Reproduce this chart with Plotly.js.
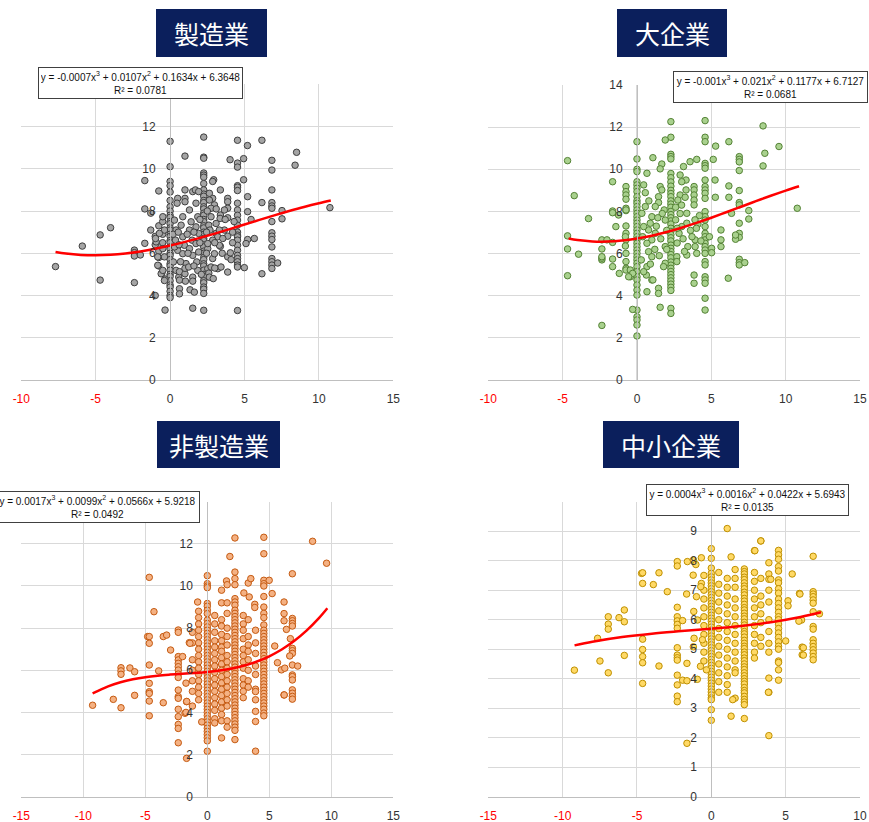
<!DOCTYPE html>
<html><head><meta charset="utf-8">
<script src="https://cdn.plot.ly/plotly-3.0.1.min.js"></script>
<style>html,body{margin:0;padding:0;background:#fff}#chart{width:869px;height:822px}</style>
</head><body><div id="chart"></div>
<script>
// ---------- 製造業 ----------
const mfgColX = [0, 2.26, 4.53, 6.84];
const mfgColY = [
 [11.3,10.1,9.4,9.2,8.9,8.5,8.2,8.0,7.8,7.7,7.5,7.4,7.2,7.1,6.9,6.8,6.6,6.5,6.3,6.2,6.0,5.9,5.7,5.5,5.4,5.2,5.0,4.9,4.7,4.5,4.4,4.2,4.0,3.9],
 [11.5,10.55,10.5,9.8,9.7,9.6,9.3,9.0,8.8,8.7,8.5,8.4,8.2,8.1,7.9,7.8,7.6,7.5,7.3,7.2,7.0,6.9,6.7,6.6,6.4,6.3,6.1,6.0,5.8,5.7,5.5,5.4,5.2,5.0,4.9,4.7,4.6,4.4,4.3,4.1,3.3],
 [11.35,10.27,10.08,9.2,9.13,8.97,8.37,8.05,7.8,7.57,7.33,7.0,6.86,6.78,6.62,6.38,6.14,5.9,5.75,5.6,5.44,5.35,3.29],
 [10.4,9.94,9.0,8.4,8.24,8.13,7.5,6.97,6.81,6.65,6.3,5.75,5.6,5.44,5.28]
];
const mfgOther = [[-7.7,5.37],[-5.9,6.34],[-4.7,6.87],[-4.7,4.73],[-4.0,7.21],[-2.4,6.15],[-2.4,6.03],[-2.4,5.87],[-2.4,4.61],[-1.7,9.44],[-1.7,8.1],[-1.7,6.47],[-2.0,5.92],[-1.3,7.9],[-1.3,7.1],[-1.0,4.0],[-0.76,8.95],[-0.76,7.3],[-0.76,6.4],[-0.76,6.1],[-0.76,5.8],[-0.76,5.4],[-1.0,6.8],[-1.0,6.4],[-0.56,5.05],[-0.34,4.78],[-0.34,3.31],[-0.5,7.5],[-0.5,6.9],[-0.5,6.5],[-0.94,6.54],[-0.83,5.83],[-0.83,5.43],[-0.6,5.03],[-0.49,6.22],[-0.38,5.83],[-0.49,5.19],[-0.38,4.71],[-0.49,7.73],[-0.38,7.1],[-0.72,6.94],[-0.98,6.7],
 [7.52,8.02],[7.52,7.63],[7.23,5.54],[6.17,5.03],[6.17,8.4],[6.17,11.35],[10.74,8.16],[8.5,10.78],[8.4,10.17],[5.2,11.1],[1.0,10.6],[4.03,10.43],[4.94,10.48],[4.94,9.48],[5.21,8.68],[5.21,7.97],[5.44,7.6],[5.66,6.7],[5.21,6.65],[5.1,6.46],[4.99,5.32],[3.87,5.11],[3.87,5.83],[4.05,6.02],[3.87,8.6],[3.87,8.44],[3.87,8.13],[3.87,7.68],[3.87,6.81],[3.38,6.33],[3.38,9.0],[3.38,7.81],[3.2,5.27],[2.93,9.48],[2.86,9.4],[2.86,8.6],[2.98,8.29],[2.75,8.13],[2.64,8.84],[2.53,5.27],[2.6,5.06],[2.64,4.87],[2.86,5.75],[3.09,6.94],[3.2,6.78],[3.31,6.38],[3.36,7.65],[3.65,8.05],[3.65,7.1],[3.54,6.7],
 [0.51,8.6],[0.47,8.37],[1.0,9.0],[1.0,8.6],[1.0,8.44],[1.52,8.92],[1.7,9.0],[1.92,8.92],
 [0.29,7.57],[0.4,7.1],[0.36,6.62],[0.51,6.14],[0.22,5.59],[0.4,5.19],[0.58,4.87],[0.63,4.32],[0.63,4.08],[0.63,5.13],[0.63,4.73],
 [0.85,7.73],[0.74,7.33],[0.85,6.78],[0.96,6.38],[0.85,5.98],[1.07,5.51],[1.0,5.03],[1.03,4.68],[1.0,5.29],
 [1.3,8.05],[1.41,7.49],[1.3,7.1],[1.48,6.62],[1.3,6.22],[1.52,5.9],[1.25,5.35],[1.52,4.87],[1.52,4.68],[1.34,4.27],[1.52,3.4],[1.63,4.16],
 [1.74,8.37],[1.86,7.73],[1.74,7.25],[1.92,6.94],[1.74,6.46],[1.92,6.06],[1.79,5.59],[1.86,5.19],
 [2.64,8.52],[2.75,7.73],[2.6,7.33],[2.68,7.1],[2.86,6.62],[2.53,6.22],[2.98,5.98],[2.53,6.46],[2.75,5.35],[3.31,7.1],[3.09,7.41],[3.42,5.35],
 [0.2,6.9],[0.3,6.3],[0.55,7.0],[0.6,6.4],[0.7,5.6],[1.15,6.9],[1.2,6.0],[1.6,7.0],[1.6,5.4],[2.0,6.5],[2.0,7.6],[2.1,5.0],[2.45,7.0],[2.45,6.0],[2.5,8.0],[3.0,6.5],[3.1,8.1],[3.5,6.0],[3.7,7.6],[4.2,7.0],[4.2,6.5],[4.3,7.5],[4.1,5.7],[2.9,4.8],[3.0,5.3]];
const mfgTrendX = [-7.7,-7,-6,-5,-4,-3,-2,-1,0,1,2,3,4,5,6,7,8,9,10,10.8];
const mfgTrendY = [6.06,5.985,5.921,5.903,5.927,5.99,6.086,6.213,6.365,6.538,6.729,6.932,7.145,7.362,7.579,7.793,7.998,8.192,8.369,8.50];

// ---------- 大企業 ----------
const lrgColX = [0, 2.28, 4.58, 6.88];
const lrgColY = [
 [11.31,10.49,10.0,9.89,9.41,9.26,9.1,8.94,8.7,8.51,8.39,8.23,8.07,7.91,7.75,7.59,7.44,7.28,7.12,6.96,6.8,6.65,6.49,6.33,6.17,6.01,5.85,5.7,5.54,5.38,5.14,4.9,4.75,4.51,4.27,4.03,3.32,3.0,2.85,2.61,2.09],
 [12.26,11.52,10.71,10.6,10.49,9.8,9.6,9.4,9.2,9.0,8.85,8.7,8.5,8.35,8.2,8.0,7.85,7.7,7.55,7.4,7.2,7.05,6.9,6.75,6.6,6.4,6.25,6.1,5.95,5.8,5.6,5.45,5.3,5.15,5.0,4.85,4.7,4.55,4.4,4.25,3.4,3.16],
 [12.31,11.52,11.31,10.28,10.17,10.05,9.49,9.18,9.02,8.86,8.62,7.99,7.75,7.59,7.28,6.96,6.8,6.65,6.49,6.33,6.17,6.01,5.62,5.46,4.9,4.75,4.59,3.88,3.32],
 [10.6,10.47,10.35,9.94,8.99,8.42,8.31,7.44,6.96,6.77,5.73,5.57,5.46]
];
const lrgOther = [[-4.67,10.41],[-4.67,6.84],[-4.67,6.22],[-4.67,4.95],[-4.22,8.75],[-3.93,5.97],[-3.26,7.66],[-2.36,5.7],[-2.36,5.78],[-2.36,5.85],[-2.36,6.22],[-2.36,6.65],[-2.36,2.59],[-2.02,6.65],[-1.64,9.41],[-1.64,8.02],[-1.64,7.94],[-1.64,6.53],[-1.64,5.74],[-1.64,5.38],[-1.42,7.28],[-1.24,7.83],[-1.19,5.06],[-0.74,9.18],[-0.74,8.94],[-0.74,8.78],[-0.74,8.58],[-0.74,8.15],[-0.74,8.04],[-0.74,7.31],[-0.74,6.96],[-0.74,6.65],[-0.74,6.01],[-0.74,5.62],[-0.74,5.3],[-0.74,5.22],[-0.29,3.35],[-0.45,5.22],[-0.45,4.9],[-0.74,8.07],[-0.78,6.8],[-0.78,6.36],[-0.29,5.06],[-0.56,4.9],
 [8.48,12.06],[8.6,10.76],[8.48,10.16],[9.55,11.08],[10.78,8.15],[7.52,8.04],[7.52,7.64],[7.25,5.57],[6.63,6.68],[6.63,6.88],[6.18,9.21],[6.18,8.67],[6.14,4.83],[6.36,7.91],[5.65,7.12],[5.65,6.65],[5.65,6.33],[5.27,8.67],[5.25,9.49],[5.13,10.47],[5.02,6.25],[5.02,6.04],[4.87,6.8],[5.29,11.1],[6.18,11.31],[4.02,10.47],[3.57,10.36],[3.13,10.13],
 [3.84,9.18],[3.84,9.02],[3.84,8.78],[3.84,8.54],[3.84,8.31],[3.91,6.65],[3.91,6.33],[3.84,4.98],[3.84,4.59],[4.02,6.01],[3.3,9.49],[3.3,9.02],[3.35,7.91],[3.35,7.44],[3.42,6.33],[3.35,5.93],[2.9,9.73],[3.01,9.41],[2.9,8.78],[2.75,8.54],[2.83,6.96],[2.68,5.85],[2.68,5.62],[3.01,7.28],[3.24,8.67],
 [1.67,10.25],[1.56,10.02],[1.07,10.55],[1.9,11.39],[1.56,9.18],[1.67,9.02],[1.45,8.7],[1.45,8.42],[1.23,8.23],[1.0,7.75],[0.89,7.44],[0.78,7.12],[1.23,6.96],[1.0,6.65],[0.67,6.49],[0.78,6.09],[1.0,5.85],[0.67,5.38],[0.63,4.98],[1.0,4.75],[0.67,4.19],[1.45,4.35],[1.45,4.11],[1.56,3.45],[1.07,4.75],[1.9,6.33],[1.9,5.54],[1.79,5.38],[1.9,7.59],[1.83,8.07],[0.56,8.89],[0.67,9.81],[0.45,9.26],[0.33,7.91],[0.45,7.28],[0.38,6.8],[0.56,8.23],[0.29,5.7],[0.45,5.14],
 [1.3,7.3],[1.6,6.7],[1.7,7.9],[2.0,7.1],[2.0,6.2],[2.6,7.6],[2.7,6.5],[2.9,7.9],[3.1,6.7],[3.2,6.1],[3.6,7.1],[3.7,6.8],[4.1,7.4],[4.2,7.8],[4.3,6.6],[1.2,6.2],[0.9,5.5],[1.5,5.9],[2.6,8.2],[3.0,8.3],[3.9,7.6],[4.0,7.2],[2.7,7.2],[1.4,7.7],[0.8,8.5]];
const lrgTrendX = [-4.6,-4,-3,-2,-1,0,1,2,3,4,5,6,7,8,9,10,10.9];
const lrgTrendY = [6.713,6.642,6.576,6.569,6.617,6.713,6.85,7.024,7.228,7.456,7.701,7.959,8.223,8.486,8.744,8.99,9.196];

// ---------- 非製造業 ----------
const nonColX = [-0.7, -1.2, 0, 0.6, 1.15, 1.6, 2.23, 2.9, 3.3, 3.89, 4.56, 6.86];
const nonColY = [
 [8.8,8.5,8.2,7.9,7.6,7.3,7.0,6.7,6.4,6.1,5.8,5.5,5.2,4.9,4.6],
 [7.8,7.3,6.5,6.0,5.5,5.0,4.3],
 [10.49,10.11,10.0,9.92,9.17,9.04,8.85,8.69,8.38,8.22,8.06,7.9,7.75,7.6,7.45,7.3,7.15,7.0,6.85,6.7,6.55,6.4,6.25,6.1,5.95,5.8,5.65,5.5,5.35,5.2,5.05,4.9,4.75,4.6,4.45,4.3,4.15,4.0,3.85,3.7,3.55,3.4,3.25,3.1,2.95,2.8,2.65,2.16],
 [8.6,8.2,7.8,7.4,7.1,6.8,6.5,6.2,5.9,5.6,5.3,5.0,4.7,4.4,4.1,3.7,3.5],
 [9.8,9.2,8.4,8.1,7.7,7.4,7.1,6.9,6.6,6.3,6.0,5.7,5.4,5.1,4.8,4.5,4.2,3.9,3.6,2.79],
 [9.2,8.7,8.0,7.6,7.2,6.7,6.4,6.1,5.8,5.5,5.2,4.9,4.6,4.3,3.6,3.3],
 [12.28,10.66,10.35,9.4,9.24,9.09,8.85,8.7,8.55,8.4,8.25,8.1,7.95,7.8,7.65,7.5,7.35,7.2,7.05,6.9,6.75,6.6,6.45,6.3,6.15,6.0,5.85,5.7,5.55,5.4,5.25,5.1,4.95,4.8,4.65,4.5,4.35,4.2,4.05,3.9,3.75,3.6,3.45,3.3,3.15,2.71],
 [8.6,8.2,7.9,7.5,7.0,6.7,6.4,6.1,5.6,5.3,5.0,4.7],
 [8.4,7.6,7.2,6.9,6.5,6.0,5.5,5.2],
 [7.9,7.3,6.8,6.2,5.8,5.1,2.16,3.57,4.05,4.6,4.99],
 [12.31,11.53,10.27,10.11,10.0,9.5,9.0,8.7,8.5,8.15,7.9,7.75,7.6,7.45,7.3,7.15,7.0,6.85,6.7,6.55,6.4,6.25,6.1,5.95,5.8,5.65,5.5,5.35,5.2,5.05,4.9,4.75,4.6,4.45,4.3,4.15,3.97,3.84],
 [10.58,8.46,8.35,8.22,8.1,7.04,6.93,6.8,6.25,5.78,5.7,5.54,5.07,4.91,4.76,4.63]
];
const nonOther = [[-9.25,4.34],[-7.58,4.62],[-6.96,6.12],[-6.96,5.97],[-6.96,5.81],[-6.96,4.22],[-6.24,6.11],[-5.86,5.93],[-5.86,4.81],[-4.81,7.6],[-4.68,7.6],[-4.68,7.28],[-4.68,6.25],[-4.68,10.41],[-4.68,5.38],[-4.68,4.98],[-4.68,4.9],[-4.68,4.54],[-4.68,3.84],[-4.3,8.78],[-3.92,5.97],[-3.55,7.6],[-3.28,7.67],[-3.55,4.46],[-2.96,6.96],[-2.34,7.91],[-2.34,7.8],[-2.34,6.65],[-2.34,6.49],[-2.34,6.33],[-2.34,6.17],[-2.34,6.01],[-2.34,5.82],[-2.34,5.66],[-2.34,5.06],[-2.34,4.75],[-2.34,4.67],[-2.34,4.15],[-2.34,3.8],[-2.34,3.43],[-2.34,3.24],[-2.34,2.56],[-1.99,6.65],[-1.67,4.51],[-1.67,1.82],[-1.45,7.31],[-1.8,3.96],[-1.72,5.39],[-1.4,7.28],[-1.66,4.52],[-1.72,4.0],[-0.78,9.24],[-0.45,3.55],
 [8.49,12.12],[9.62,11.08],[1.82,11.4],[1.55,10.24],[1.6,10.06],[2.23,10.06],[3.3,10.14],[3.51,10.35],[2.95,9.67],[3.38,9.48],[3.83,9.13],[3.83,8.98],[4.99,10.27],[5.23,9.64],[6.19,9.24],[6.19,8.69],[6.19,8.35],[6.38,7.94],[5.44,7.15],[5.66,6.36],[5.98,6.02],[6.25,6.1],[7.29,6.2],[6.19,4.83],[6.7,7.5],[6.65,6.68],[6.2,4.83]];
const nonTrendX = [-9.25,-8,-7,-6,-5,-4,-3,-2,-1,0,1,2,3,4,5,6,7,8,9,9.68];
const nonTrendY = [4.90,5.232,5.428,5.571,5.674,5.745,5.795,5.835,5.873,5.922,5.99,6.088,6.227,6.415,6.665,6.985,7.386,7.879,8.472,8.94];

// ---------- 中小企業 ----------
const smeColX = [-0.5, 0, 0.5, 1.07, 1.6, 2.22, 2.9, 3.33, 3.87, 4.52, 6.85];
const smeColY = [
 [7.5,7.0,6.7,6.4,6.1,5.8,5.5,5.2,4.9,4.6],
 [8.41,8.08,7.75,7.57,7.45,7.35,7.25,7.15,7.05,6.95,6.85,6.75,6.65,6.55,6.45,6.35,6.25,6.15,6.05,5.95,5.85,5.75,5.65,5.55,5.45,5.35,5.25,5.15,5.05,4.95,4.85,4.75,4.65,4.55,4.45,4.35,4.25,4.15,4.05,3.95,3.85,3.75,3.65,3.55,3.45,3.35,3.29,2.95,2.59],
 [7.6,7.2,6.9,6.6,6.3,6.0,5.7,5.4,5.1,4.8,4.5,4.2,3.9,3.54],
 [9.09,7.4,7.1,6.8,6.5,6.2,5.9,5.6,5.3,5.0,4.7,4.4,4.1,3.8,3.54],
 [7.7,7.4,7.1,6.7,6.4,6.1,5.8,5.5,5.2,4.9,4.6,4.3,4.2,3.34],
 [7.72,7.63,7.55,7.44,7.36,7.25,7.14,7.05,6.93,6.84,6.72,6.63,6.52,6.41,6.33,6.22,6.12,6.03,5.91,5.82,5.71,5.6,5.52,5.41,5.3,5.2,5.1,5.02,4.9,4.81,4.7,4.61,4.5,4.4,4.31,4.2,4.1,4.0,3.91,3.82,3.7,3.6,3.52,3.4,3.3,3.21,3.12,2.65],
 [8.34,7.6,7.3,7.0,6.7,6.4,6.1,5.8,5.5,5.2,4.9,4.7],
 [8.67,7.4,6.8,6.5,6.2,5.9,5.4,5.1],
 [7.93,7.55,7.37,7.0,6.6,6.0,5.6,5.2,4.9,4.02,3.54,2.07],
 [8.35,8.2,8.05,7.8,7.65,7.35,7.25,7.05,6.9,6.7,6.55,6.4,6.25,6.1,6.0,5.85,5.7,5.55,5.4,5.25,5.1,5.0,4.6,4.55,4.3,3.95],
 [8.15,6.95,6.87,6.78,6.67,6.56,6.27,5.77,5.68,5.32,5.2,5.09,4.98,4.87,4.75,4.64]
];
const smeOther = [[-9.21,4.29],[-7.65,5.37],[-7.49,4.6],[-6.93,6.1],[-6.93,5.85],[-6.93,5.68],[-6.93,4.2],[-6.21,6.07],[-5.85,6.33],[-5.85,5.93],[-5.85,4.79],[-4.69,7.57],[-4.62,7.59],[-4.62,7.23],[-4.62,5.34],[-4.62,4.99],[-4.62,4.75],[-4.62,4.54],[-4.62,3.84],[-3.9,7.19],[-3.52,7.59],[-3.52,4.43],[-2.96,6.95],[-2.29,7.97],[-2.29,7.82],[-2.29,6.42],[-2.29,6.1],[-2.29,5.96],[-2.29,5.84],[-2.29,5.71],[-2.29,5.05],[-2.29,4.8],[-2.29,4.71],[-2.29,4.63],[-2.29,4.12],[-2.29,3.79],[-2.29,3.41],[-2.29,3.22],[-1.93,3.95],[-1.64,1.81],[-1.64,4.52],[-1.64,3.93],[-1.61,7.97],[-1.66,6.87],[-1.93,5.97],[-1.21,5.08],[-1.21,8.02],[-0.94,3.98],[-0.67,8.1],[-1.04,7.87],[-1.22,7.51],[-0.67,7.23],[-0.71,7.12],[-1.0,6.78],[-1.18,6.28],[-0.93,5.99],[-1.16,5.37],[-0.6,5.32],[-0.33,4.3],[-0.73,4.42],
 [1.33,8.13],[1.33,2.73],[1.44,3.29],[3.33,8.67],[2.93,8.34],[5.44,7.55],[5.93,6.89],[5.16,6.64],[5.16,6.47],[5.0,5.28],[6.11,5.07],[6.11,4.81],[6.07,5.99],[5.89,5.95],[7.27,6.2],[5.96,6.87],[6.19,4.8],[6.19,5.05],[3.84,3.54],[4.0,7.37]];
const smeTrendX = [-9.2,-8,-6,-4,-2,0,2,4,6,7.38];
const smeTrendY = [5.13,5.254,5.412,5.526,5.613,5.694,5.788,5.914,6.092,6.25];

// ---------- labels ----------
const titles = ['製造業','大企業','非製造業','中小企業'];
const eqLine1 = ['y = -0.0007x<sup>3</sup> + 0.0107x<sup>2</sup> + 0.1634x + 6.3648',
 'y = -0.001x<sup>3</sup> + 0.021x<sup>2</sup> + 0.1177x + 6.7127',
 'y = 0.0017x<sup>3</sup> + 0.0099x<sup>2</sup> + 0.0566x + 5.9218',
 'y = 0.0004x<sup>3</sup> + 0.0016x<sup>2</sup> + 0.0422x + 5.6943'];
const eqLine2 = ['R² = 0.0781','R² = 0.0681','R² = 0.0492','R² = 0.0135'];
const xTicks = [[-10,-5,0,5,10,15],[-10,-5,0,5,10,15],[-15,-10,-5,0,5,10,15],[-15,-10,-5,0,5,10]];
const yTicks = [[0,2,4,6,8,10,12,14],[0,2,4,6,8,10,12,14],[0,2,4,6,8,10,12,14],[0,1,2,3,4,5,6,7,8,9,10]];

// ---------- layout geometry (pixels) ----------
const W=869, H=822;
const geo = [
 {xd:[21.3,393.3], yd:[84.3,380], xr:[-10,15], yr:[0,14], eq:[140.5,83.3,199], tb:[156,267,9,57]},
 {xd:[488.3,860], yd:[85,380], xr:[-10,15], yr:[0,14], eq:[770.5,87,189], tb:[617,727,9,57]},
 {xd:[21.3,393.3], yd:[501.7,796.7], xr:[-15,15], yr:[0,14], eq:[97,507,199], tb:[157,280,421,468]},
 {xd:[488.3,860], yd:[501.7,796.7], xr:[-15,10], yr:[0,10], eq:[747,500.5,197], tb:[603,739,421,468]}
];
const styles = [
 {fill:'#a5a5a5', edge:'#3f3f3f'},
 {fill:'#a9d18e', edge:'#548235'},
 {fill:'#f4b183', edge:'#c55a11'},
 {fill:'#ffd966', edge:'#bf9000'}
];
const datasets = [
 {colX:mfgColX, colY:mfgColY, other:mfgOther, tx:mfgTrendX, ty:mfgTrendY},
 {colX:lrgColX, colY:lrgColY, other:lrgOther, tx:lrgTrendX, ty:lrgTrendY},
 {colX:nonColX, colY:nonColY, other:nonOther, tx:nonTrendX, ty:nonTrendY},
 {colX:smeColX, colY:smeColY, other:smeOther, tx:smeTrendX, ty:smeTrendY}
];

const fx = p => p/W, fy = p => 1 - p/H;
const traces = [], layout = {
 width:W, height:H, margin:{l:0,r:0,t:0,b:0}, paper_bgcolor:'#fff', plot_bgcolor:'#fff',
 showlegend:false, shapes:[], annotations:[], hovermode:false,
 font:{family:'Liberation Sans, Arial, sans-serif', color:'#333'}
};
const tickFont = {family:'Liberation Sans, Arial, sans-serif', size:12, color:'#333'};

datasets.forEach((d,i)=>{
 const n = i===0 ? '' : String(i+1);
 const xa = 'x'+n, ya = 'y'+n;
 const g = geo[i], s = styles[i];
 const px = [], py = [];
 d.colX.forEach((cx,k)=>{ d.colY[k].forEach(v=>{ px.push(cx); py.push(v); }); });
 d.other.forEach(p=>{ px.push(p[0]); py.push(p[1]); });
 traces.push({type:'scatter', mode:'markers', x:px, y:py, xaxis:xa, yaxis:ya,
   marker:{size:6.5, color:s.fill, line:{color:s.edge, width:1}}, cliponaxis:false});
 traces.push({type:'scatter', mode:'lines', x:d.tx, y:d.ty, xaxis:xa, yaxis:ya,
   line:{color:'#ff0000', width:2.5, shape:'spline', smoothing:1}});
 const xdom = [fx(g.xd[0]), fx(g.xd[1])];
 const ydom = [fy(g.yd[1]), fy(g.yd[0])];
 const ypos = xdom[0] + (0 - g.xr[0])/(g.xr[1]-g.xr[0])*(xdom[1]-xdom[0]);
 layout['xaxis'+n] = {domain:xdom, range:g.xr, anchor:ya, tickmode:'array',
   tickvals:xTicks[i], ticktext:xTicks[i].map(v=> v<0 ? '<span style="color:#ff0000">'+v+'</span>' : String(v)),
   showgrid:true, gridcolor:'#d9d9d9', gridwidth:1, zeroline:false, showline:true, linecolor:'#bfbfbf', linewidth:1,
   ticks:'', ticklabelstandoff:8, tickfont:tickFont, fixedrange:true};
 layout['yaxis'+n] = {domain:ydom, range:g.yr, anchor:'free', position:ypos, tickmode:'array',
   tickvals:yTicks[i], ticktext:yTicks[i].map(String),
   showgrid:true, gridcolor:'#d9d9d9', gridwidth:1, zeroline:false, showline:true, linecolor:'#bfbfbf', linewidth:1,
   ticks:'', ticklabelstandoff:12, tickfont:tickFont, fixedrange:true};
 // equation box
 layout.annotations.push({xref:'paper', yref:'paper', x:fx(g.eq[0]), y:fy(g.eq[1]), xanchor:'center', yanchor:'middle',
   text:eqLine1[i]+'<br>'+eqLine2[i], showarrow:false, align:'center', width:g.eq[2], height:26,
   bgcolor:'#ffffff', bordercolor:'#404040', borderwidth:1, borderpad:2,
   font:{family:'Liberation Sans, Arial, sans-serif', size:10, color:'#111'}});
 // title box
 layout.shapes.push({type:'rect', xref:'paper', yref:'paper', x0:fx(g.tb[0]), x1:fx(g.tb[1]), y0:fy(g.tb[3]), y1:fy(g.tb[2]),
   fillcolor:'#0b1f5c', line:{width:0}, layer:'above'});
 layout.annotations.push({xref:'paper', yref:'paper', x:fx((g.tb[0]+g.tb[1])/2), y:fy((g.tb[2]+g.tb[3])/2),
   xanchor:'center', yanchor:'middle', text:titles[i], showarrow:false,
   font:{family:'Noto Sans CJK JP, sans-serif', size:25, color:'#ffffff'}});
});

Plotly.newPlot('chart', traces, layout, {staticPlot:true, displayModeBar:false});
</script></body></html>
